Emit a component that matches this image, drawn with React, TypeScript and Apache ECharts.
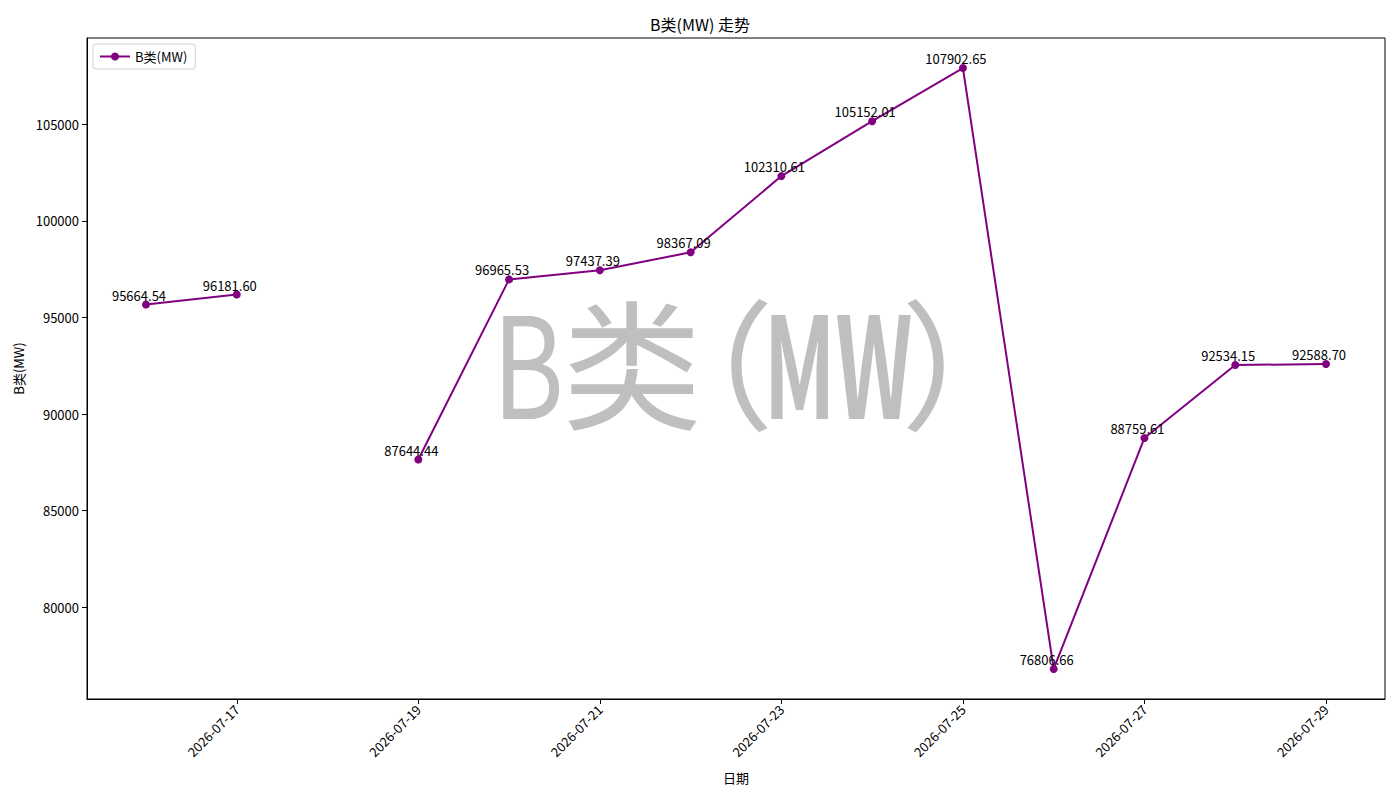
import React, { useEffect, useRef } from 'react'
import * as echarts from 'echarts'

const FONT = '"Noto Sans CJK SC", "DejaVu Sans", sans-serif'

const dates = [
  '2026-07-16', '2026-07-17', '2026-07-18', '2026-07-19', '2026-07-20', '2026-07-21', '2026-07-22',
  '2026-07-23', '2026-07-24', '2026-07-25', '2026-07-26', '2026-07-27', '2026-07-28', '2026-07-29'
]
// 07-18 has no value: the line is broken there
const values: (number | null)[] = [
  95664.54, 96181.6, null, 87644.44, 96965.53, 97437.39, 98367.09,
  102310.61, 105152.01, 107902.65, 76806.66, 88759.61, 92534.15, 92588.7
]
const xTicks = [17, 19, 21, 23, 25, 27, 29]
const yTicks = [80000, 85000, 90000, 95000, 100000, 105000]

const dayOf = (d: string) => parseInt(d.slice(8), 10)

// big grey watermark, built from pieces so the latin letters can be narrowed
function watermark(): any[] {
  const base = {
    fontSize: 140, lineHeight: 104, fontFamily: FONT, fill: '#bfbfbf', align: 'center', verticalAlign: 'middle'
  }
  const y = 358
  return [
    { type: 'text', x: 528, y, scaleX: 0.78, silent: true, style: { ...base, text: 'B' } },
    { type: 'text', x: 632, y, silent: true, style: { ...base, text: '类' } },
    { type: 'text', x: 704, y, silent: true, style: { ...base, text: '（' } },
    { type: 'text', x: 838, y, scaleX: 0.6, silent: true, style: { ...base, text: 'MW', fontWeight: 'bold' } },
    { type: 'text', x: 971, y, silent: true, style: { ...base, text: '）' } }
  ]
}

export default function App() {
  const chartRef = useRef<HTMLDivElement>(null)

  useEffect(() => {
    document.body.style.margin = '0'
    if (!chartRef.current) return
    const chart = echarts.init(chartRef.current, null, { renderer: 'svg' })

    const days = dates.map(dayOf)
    const xPad = (days[days.length - 1] - days[0]) * 0.05
    const nums = values.filter((v): v is number => v !== null)
    const yMinData = Math.min(...nums)
    const yMaxData = Math.max(...nums)
    const yPad = (yMaxData - yMinData) * 0.05

    const option: echarts.EChartsOption = {
      animation: false,
      textStyle: { fontFamily: FONT },
      title: {
        text: 'B类(MW) 走势',
        left: 'center',
        top: 11,
        textStyle: { fontSize: 16, fontWeight: 'normal', color: '#000', fontFamily: FONT }
      },
      legend: {
        left: 93,
        top: 44,
        orient: 'vertical',
        itemWidth: 30,
        itemHeight: 10,
        itemGap: 8,
        padding: [6, 8, 6, 6],
        borderColor: '#d0d0d0',
        borderWidth: 1,
        borderRadius: 3,
        backgroundColor: '#fff',
        textStyle: { fontSize: 13, color: '#000', fontFamily: FONT },
        data: ['B类(MW)']
      },
      grid: { left: 87, right: 15, top: 38, bottom: 101, show: true, borderColor: '#000', borderWidth: 1 },
      graphic: watermark(),
      xAxis: {
        type: 'value',
        min: days[0] - xPad,
        max: days[days.length - 1] + xPad,
        name: '日期',
        nameLocation: 'middle',
        nameGap: 72,
        nameTextStyle: { fontSize: 13, color: '#000', fontFamily: FONT },
        axisLine: { lineStyle: { color: '#000', width: 1 } },
        axisTick: { show: true, length: 5, lineStyle: { color: '#000' }, customValues: xTicks },
        axisLabel: {
          customValues: xTicks,
          rotate: 45,
          fontSize: 13,
          color: '#000',
          margin: 8,
          formatter: (v: number) => `2026-07-${String(v).padStart(2, '0')}`
        },
        splitLine: { show: false }
      },
      yAxis: {
        type: 'value',
        min: yMinData - yPad,
        max: yMaxData + yPad,
        name: 'B类(MW)',
        nameLocation: 'middle',
        nameGap: 58,
        nameTextStyle: { fontSize: 13, color: '#000', fontFamily: FONT },
        axisLine: { show: true, lineStyle: { color: '#000', width: 1 } },
        axisTick: { show: true, length: 5, lineStyle: { color: '#000' }, customValues: yTicks },
        axisLabel: {
          customValues: yTicks,
          fontSize: 13,
          color: '#000',
          margin: 8,
          formatter: (v: number) => String(v)
        },
        splitLine: { show: false }
      },
      series: [{
        name: 'B类(MW)',
        type: 'line',
        data: days.map((d, i) => [d, values[i] === null ? '-' : values[i]]),
        connectNulls: false,
        symbol: 'circle',
        symbolSize: 8,
        z: 3,
        itemStyle: { color: '#800080' },
        lineStyle: { color: '#800080', width: 2 },
        label: {
          show: true,
          position: 'top',
          distance: -1,
          offset: [-7, 0],
          fontSize: 13,
          color: '#000',
          fontFamily: FONT,
          formatter: (p: any) => Number(p.value[1]).toFixed(2)
        }
      }]
    }

    chart.setOption(option)
    return () => chart.dispose()
  }, [])

  return <div ref={chartRef} style={{ width: '1400px', height: '800px' }} />
}
